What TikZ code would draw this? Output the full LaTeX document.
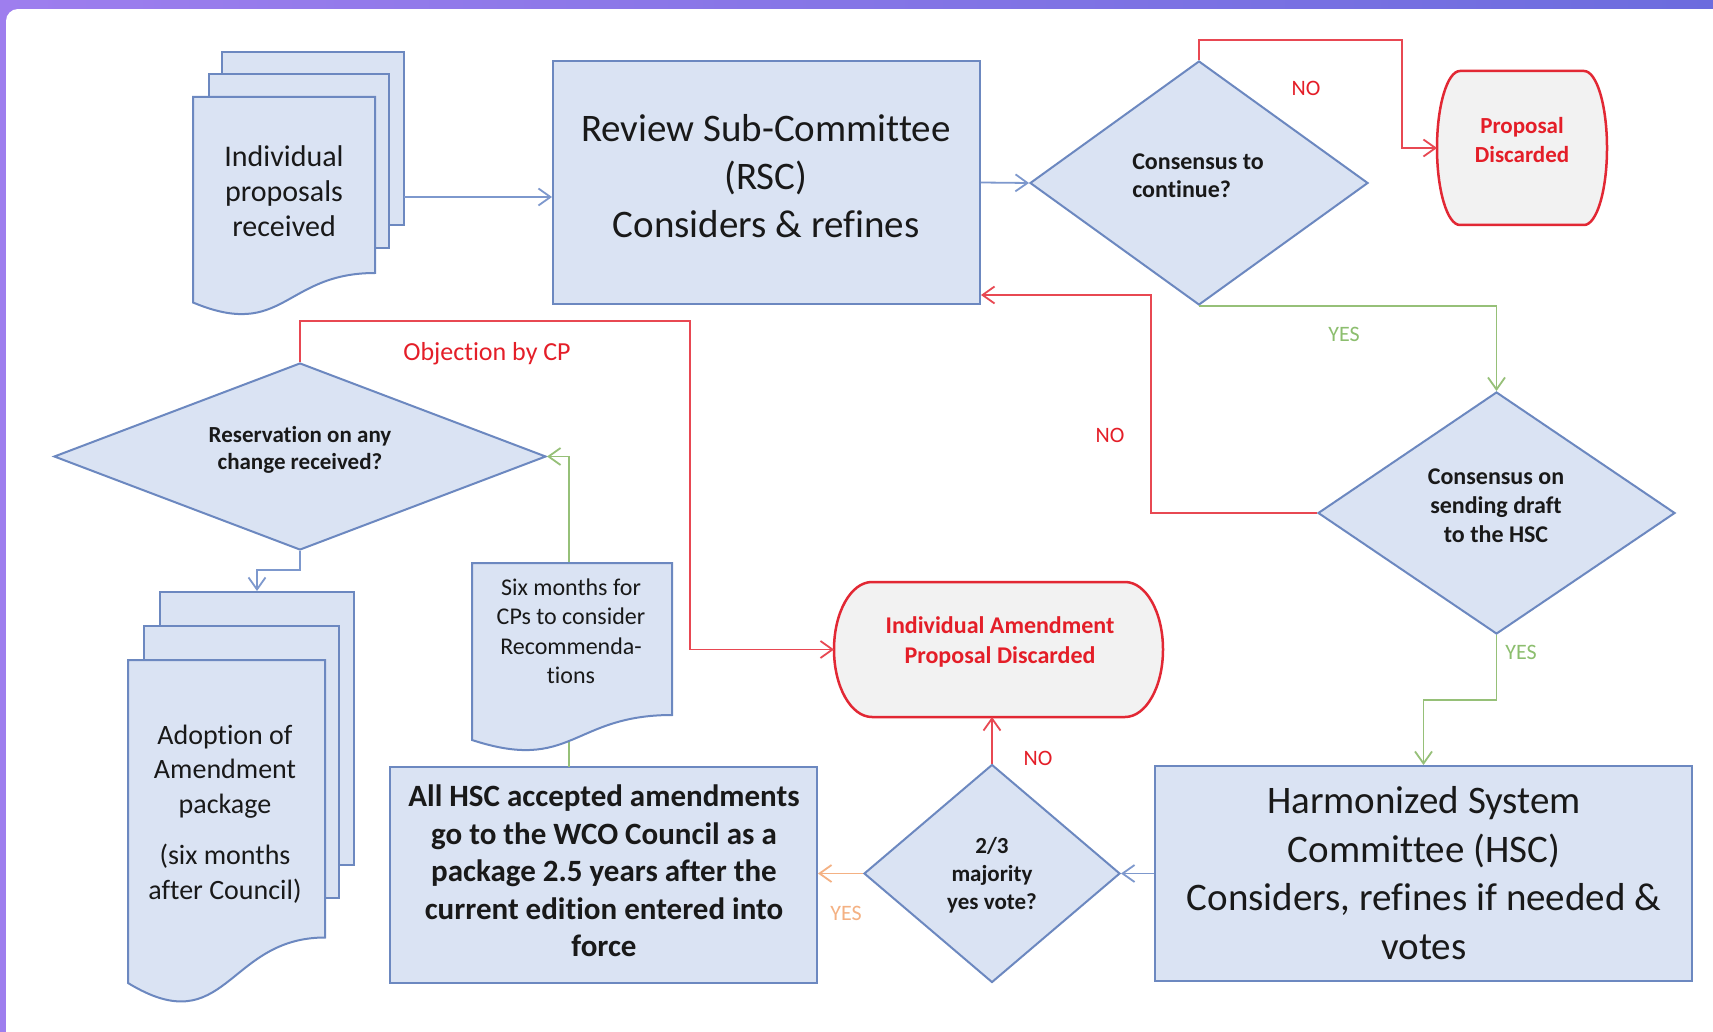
\documentclass[tikz,border=0pt]{standalone}
\usepackage{fontspec}
\setmainfont{Carlito}[Ligatures=NoCommon]
\usetikzlibrary{arrows.meta,shapes.geometric,calc}

\definecolor{bfill}{RGB}{218,227,243}
\definecolor{bline}{RGB}{108,136,192}
\definecolor{cblue}{RGB}{125,152,205}
\definecolor{cred}{RGB}{232,72,82}
\definecolor{tred}{RGB}{228,30,40}
\definecolor{sred}{RGB}{226,40,52}
\definecolor{gfill}{RGB}{242,242,242}
\definecolor{cgreen}{RGB}{150,192,120}
\definecolor{tgreen}{RGB}{140,190,110}
\definecolor{corange}{RGB}{244,177,131}
\definecolor{tblack}{RGB}{25,25,25}
\definecolor{pl}{RGB}{158,126,238}
\definecolor{pr}{RGB}{108,108,222}

\begin{document}
\begin{tikzpicture}[x=1pt,y=-1pt,
  box/.style={draw=bline, fill=bfill, line width=2pt, rectangle, inner sep=0pt},
  page/.style={draw=bline, fill=bfill, line width=2pt},
  discard/.style={draw=sred, fill=gfill, line width=2.5pt},
  dia/.style={diamond, draw=bline, fill=bfill, line width=2pt, inner sep=0pt},
  anchorbox/.style={rectangle, inner sep=0pt, outer sep=0pt},
  txt/.style={inner sep=0pt, align=center, text=tblack},
  lbl/.style={inner sep=0pt, font=\fontsize{22}{26}\selectfont},
  conn/.style={line width=1.8pt, -{Straight Barb[length=12pt,width=17pt]}},
  bigf/.style={font=\fontsize{39}{48}\selectfont},
]
\useasboundingbox (0,0) rectangle (1713,1032);

% frame
\fill[pl] (0,0) rectangle (30,30);
\fill[white, rounded corners=12pt] (6,9) rectangle (1760,1080);
\shade[left color=pl, right color=pr] (0,0) rectangle (1713,9);
\fill[pl] (0,0) rectangle (6,1032);

% ---------- shapes ----------
% Individual proposals (stack)
\node[box, minimum width=182, minimum height=173] (ip3) at (313,138.5) {};
\node[box, minimum width=180, minimum height=174] (ip2) at (299,161) {};
\filldraw[page] (193,97) -- (375,97) -- (375,273) .. controls (284,273) and (284,340.5) .. (193,302.5) -- cycle;
\node[txt, font=\fontsize{30}{35}\selectfont] (ipt) at (284,191) {Individual\\proposals\\received};
\coordinate (ipout) at (404,197);

% RSC
\node[box, minimum width=427, minimum height=243] (rsc) at (766.5,182.5) {};
\node[txt, bigf] (rsct) at (766,176) {Review Sub-Committee\\(RSC)\\Considers \& refines};

% Decision 1
\node[dia, shape aspect=1.385, minimum width=338, minimum height=244] (d1) at (1199,183) {};
\node[txt, align=left, font=\bfseries\fontsize{24}{28}\selectfont] (d1t) at (1198,176) {Consensus to\\continue?};

% Proposal discarded
\filldraw[discard] (1460,71) -- (1584,71) .. controls (1596.7,71) and (1607,105.5) .. (1607,148)
  .. controls (1607,190.5) and (1596.7,225) .. (1584,225) -- (1460,225)
  .. controls (1447.3,225) and (1437,190.5) .. (1437,148)
  .. controls (1437,105.5) and (1447.3,71) .. (1460,71) -- cycle;
\node[anchorbox, minimum width=170, minimum height=154] (pd) at (1522,148) {};
\node[txt, text=tred, font=\bfseries\fontsize{23}{29}\selectfont] (pdt) at (1522,140) {Proposal\\Discarded};

% Decision 2
\node[dia, shape aspect=1.47, minimum width=357, minimum height=242] (d2) at (1496.5,513) {};
\node[txt, font=\bfseries\fontsize{24}{29}\selectfont] (d2t) at (1496,506) {Consensus on\\sending draft\\to the HSC};

% HSC
\node[box, minimum width=537, minimum height=215] (hsc) at (1423.5,873.5) {};
\node[txt, font=\fontsize{39}{48.5}\selectfont] (hsct) at (1424,873) {Harmonized System\\Committee (HSC)\\Considers, refines if needed \&\\votes};

% Decision 3
\node[dia, shape aspect=1.17, minimum width=256, minimum height=218] (d3) at (992,873.5) {};
\node[txt, font=\bfseries\fontsize{23}{28}\selectfont] (d3t) at (992,875) {2/3\\majority\\yes vote?};

% Individual amendment proposal discarded
\filldraw[discard] (872,582) -- (1125,582) .. controls (1146,582) and (1163,612.2) .. (1163,649.5)
  .. controls (1163,686.8) and (1146,717) .. (1125,717) -- (872,717)
  .. controls (851,717) and (834,686.8) .. (834,649.5)
  .. controls (834,612.2) and (851,582) .. (872,582) -- cycle;
\node[anchorbox, minimum width=329, minimum height=135] (iapd) at (998.5,649.5) {};
\node[txt, text=tred, font=\bfseries\fontsize{24}{30}\selectfont] (iapdt) at (1000,642) {Individual Amendment\\Proposal Discarded};

% WCO Council box
\node[box, minimum width=427, minimum height=216] (wco) at (603.5,875) {};
\node[txt, font=\bfseries\fontsize{31}{37.5}\selectfont] (wcot) at (604,871) {All HSC accepted amendments\\go to the WCO Council as a\\package 2.5 years after the\\current edition entered into\\force};

% Reservation decision
\node[dia, shape aspect=2.63, minimum width=492, minimum height=187] (res) at (300,456.5) {};
\node[txt, font=\bfseries\fontsize{23}{27}\selectfont] (rest) at (300,449.5) {Reservation on any\\change received?};

% green line behind the six-months document
\coordinate (g0) at (569,767);
\draw[conn, cgreen] (g0) |- (res.east);

% Six months document
\filldraw[page] (472,563) -- (672,563) -- (672,715) .. controls (572,715) and (572,772.8) .. (472,740) -- cycle;
\node[anchorbox, minimum width=200, minimum height=175] (six) at (572,650) {};
\node[txt, font=\fontsize{24}{29.5}\selectfont] (sixt) at (571,631.5) {Six months for\\CPs to consider\\Recommenda-\\tions};

% Adoption stack
\node[box, minimum width=194, minimum height=273] (ad3) at (257,728.5) {};
\node[box, minimum width=195, minimum height=272] (ad2) at (241.5,762) {};
\filldraw[page] (128,660) -- (325,660) -- (325,937.5) .. controls (226.5,937.5) and (226.5,1043) .. (128,983) -- cycle;
\node[txt, font=\fontsize{28}{34.5}\selectfont] (adt) at (225,814) {Adoption of\\Amendment\\package\\[17pt](six months\\after Council)};

% ---------- connectors ----------
\draw[conn, cblue] (ipout) -- (ipout -| rsc.west);
\draw[conn, cblue] (rsc.east) -- (d1.west);

\coordinate (no1) at (1402,40);
\draw[conn, cred] (d1.north) |- (no1) |- (pd.west);
\node[lbl, text=tred] (no1l) at (1306,88) {NO};

\draw[conn, cgreen] (d1.south) -| (d2.north);
\node[lbl, text=tgreen] (yes1l) at (1344,334) {YES};

\coordinate (no2) at (1151,295);
\draw[conn, cred] (d2.west) -| (no2) -- (no2 -| rsc.east);
\node[lbl, text=tred] (no2l) at (1110,435) {NO};

\draw[conn, cgreen] (d2.south) -- ++(0,65) -| (hsc.north);
\node[lbl, text=tgreen] (yes2l) at (1521,652) {YES};

\draw[conn, cblue] (hsc.west) -- (d3.east);

\draw[conn, cred] (d3.north) -- (d3.north |- iapd.south);
\node[lbl, text=tred] (no3l) at (1038,758) {NO};

\draw[conn, corange] (d3.west) -- (d3.west -| wco.east);
\node[lbl, text=corange] (yes3l) at (846,913) {YES};

\coordinate (obj) at (690,321);
\draw[conn, cred] (res.north) |- (obj) |- (iapd.west);
\node[inner sep=0pt, text=tred, font=\fontsize{26}{30}\selectfont] (objl) at (487,354) {Objection by CP};

\draw[conn, cblue] (res.south) -- ++(0,19) -| (ad3.north);
\end{tikzpicture}
\end{document}
